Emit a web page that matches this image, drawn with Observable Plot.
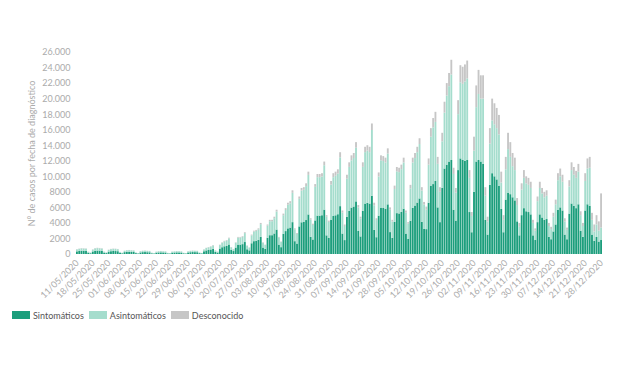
<!DOCTYPE html>
<html><head><meta charset="utf-8">
<script src="https://cdn.jsdelivr.net/npm/d3@7"></script>
<script src="https://cdn.jsdelivr.net/npm/@observablehq/plot@0.6"></script>
<style>
body{margin:0;background:#fff;font-family:Lato,"Noto Sans",sans-serif;}
#chart{width:620px;}
.legend{display:flex;align-items:center;margin:9px 0 0 12px;font-size:9px;color:#555;height:12px;}
.legend .sw{width:18px;height:8px;margin-right:3px;}
.legend .it{display:flex;align-items:center;margin-right:5px;}
</style></head><body><div id="chart"></div>
<script>
const sintomaticos = [
340,390,420,410,400,170,100,
330,410,440,430,400,180,120,
310,360,390,380,360,150,90,
240,280,290,270,260,110,70,
200,240,250,230,220,90,60,
170,200,210,200,190,80,60,
180,190,210,200,190,90,60,
200,230,250,240,230,110,80,
350,460,520,580,670,280,190,
700,870,990,1040,1220,520,380,
830,1210,1210,1270,1540,610,470,
1380,1650,1710,1820,2200,830,660,
2090,2420,2420,2640,3140,1210,880,
2600,2950,3300,3400,4100,1650,1350,
3550,4080,4130,4370,5090,2210,1870,
4320,4940,4940,4990,5710,2400,2060,
4420,4890,4980,5120,6160,2630,1790,
4790,5550,5970,6110,6770,2960,2260,
5550,6490,6580,6490,7500,3100,2160,
4940,5970,5920,5830,6390,2820,2070,
4140,5260,5220,5410,5830,2630,1930,
4270,5950,6240,6620,7150,4130,3220,
3200,6600,8800,9000,9400,6000,4100,
8500,11000,11500,11900,12100,5700,4300,
10800,12300,12100,12000,12100,5400,2800,
8000,11900,12100,11900,11600,4400,2500,
8900,10400,10000,9600,8800,5800,2800,
7000,7900,7700,7300,6900,4200,2400,
5000,5900,5500,5400,5100,2400,1800,
4100,5100,4700,4400,4500,2200,1900,
2900,3800,5700,6000,5600,2500,1900,
5200,6500,6200,5900,6400,3000,2200,
5600,6400,6200,2500,1700,2200,1600,
1800];
const asintomaticos = [
250,270,300,290,290,110,80,
240,310,320,310,300,120,80,
220,270,270,280,260,110,70,
170,200,200,200,190,80,50,
150,170,180,170,160,70,40,
120,150,160,140,140,60,30,
120,140,150,150,140,60,40,
140,170,180,170,170,80,50,
230,310,340,380,430,180,120,
450,570,640,690,800,340,240,
610,900,900,940,1150,450,350,
1020,1230,1270,1350,1640,610,490,
1560,1800,1800,1970,2330,900,660,
2390,2710,3040,3130,3770,1520,1240,
3550,4080,4130,4370,5090,2210,1870,
4320,4950,4950,4990,5710,2400,2070,
4510,4990,5090,5230,6280,2690,1820,
4900,5660,6090,6240,6910,3020,2300,
5660,6620,6720,6620,8460,3170,2210,
5030,6090,6050,5950,6530,2880,2110,
4220,5380,5320,5510,5950,2690,1960,
4180,5830,6110,6490,7000,4040,3140,
2500,4900,6300,7300,7600,5600,3900,
6000,7200,8900,9700,11000,4600,3600,
7200,9800,9800,10200,10500,4400,2100,
5300,7000,8500,8100,8400,3100,1700,
5300,6800,6700,6600,6600,3400,1600,
3900,5600,4800,4000,3900,2100,1100,
3300,3900,3600,3500,3400,1600,1200,
2700,3400,3100,2900,3000,1400,1300,
1900,2600,3800,4000,3700,1700,1200,
3500,4300,4000,3900,4200,2000,1400,
3800,4600,4900,1900,1200,1600,1400,
1600];
const desconocido = [
30,40,40,40,30,20,10,
30,40,40,40,40,20,10,
30,30,40,30,30,10,10,
20,20,30,20,20,10,10,
20,20,20,20,20,10,10,
20,20,20,20,20,10,10,
20,20,20,20,20,10,10,
20,20,20,20,20,10,10,
20,30,40,40,50,20,10,
50,60,70,70,80,40,30,
60,90,90,90,110,40,30,
100,120,120,130,160,60,50,
150,180,180,190,230,90,60,
210,240,260,270,330,130,110,
300,340,340,360,420,180,160,
360,410,410,420,480,200,170,
470,520,530,550,660,280,190,
510,590,640,650,720,320,240,
590,690,700,690,840,330,230,
530,640,630,620,680,300,220,
440,560,560,580,620,280,210,
450,620,650,690,750,430,340,
400,800,1100,1200,1300,900,600,
1100,1400,1600,1700,1900,800,600,
1800,2200,2200,2200,2300,1000,500,
1800,2800,3100,3000,3000,1100,600,
2000,2800,2700,2600,2500,1400,600,
1600,2100,1900,1700,1600,900,500,
800,1000,900,900,800,400,300,
600,800,700,700,700,400,300,
500,600,900,1000,900,400,300,
800,1000,1000,900,1000,500,400,
1000,1300,1400,900,900,1200,1200,
4400];
const tickLabels = ["11/05/2020","18/05/2020","25/05/2020","01/06/2020","08/06/2020","15/06/2020","22/06/2020","29/06/2020","06/07/2020","13/07/2020","20/07/2020","27/07/2020","03/08/2020","10/08/2020","17/08/2020","24/08/2020","31/08/2020","07/09/2020","14/09/2020","21/09/2020","28/09/2020","05/10/2020","12/10/2020","19/10/2020","26/10/2020","02/11/2020","09/11/2020","16/11/2020","23/11/2020","30/11/2020","07/12/2020","14/12/2020","21/12/2020","28/12/2020"];
const yTicks = [0,2000,4000,6000,8000,10000,12000,14000,16000,18000,20000,22000,24000,26000];
const series = ["Sintomáticos","Asintomáticos","Desconocido"];
const colors = ["#1c9e7c","#a5ddcd","#c6c6c6"];

const startDate = new Date(Date.UTC(2020,4,11));
const fmtDay = d3.utcFormat("%d/%m/%Y");
const days = sintomaticos.map((_, i) => fmtDay(d3.utcDay.offset(startDate, i)));
const data = [];
days.forEach((d, i) => {
  data.push({day: d, serie: series[0], value: sintomaticos[i]});
  data.push({day: d, serie: series[1], value: asintomaticos[i]});
  data.push({day: d, serie: series[2], value: desconocido[i]});
});
const fmtY = v => v >= 10000 ? d3.format(",")(v).replace(/,/g, ".") : String(v);

const chart = Plot.plot({
  width: 620, height: 300,
  marginLeft: 76, marginRight: 18, marginTop: 52, marginBottom: 46,
  style: {fontFamily: "Lato, 'Noto Sans', sans-serif", fontSize: "9px", color: "#ababab", background: "white"},
  x: {type: "band", domain: days, paddingInner: 0.18, paddingOuter: 0, label: null},
  y: {domain: [0, 26000], label: null},
  color: {domain: series, range: colors},
  marks: [
    Plot.barY(data, {x: "day", y: "value", fill: "serie", order: series}),
    Plot.axisX({ticks: tickLabels, tickSize: 0, tickPadding: 7, tickRotate: -45, label: null}),
    Plot.axisY({ticks: yTicks, tickSize: 0, tickPadding: 6, tickFormat: fmtY,
      label: "N° de casos por fecha de diagnóstico", labelAnchor: "center", labelArrow: "none", labelOffset: 48})
  ]
});
document.getElementById("chart").appendChild(chart);

const legend = document.createElement("div");
legend.className = "legend";
series.forEach((s, i) => {
  const it = document.createElement("div"); it.className = "it";
  const sw = document.createElement("div"); sw.className = "sw"; sw.style.background = colors[i];
  const t = document.createElement("span"); t.textContent = s;
  it.appendChild(sw); it.appendChild(t); legend.appendChild(it);
});
document.getElementById("chart").appendChild(legend);
</script></body></html>
